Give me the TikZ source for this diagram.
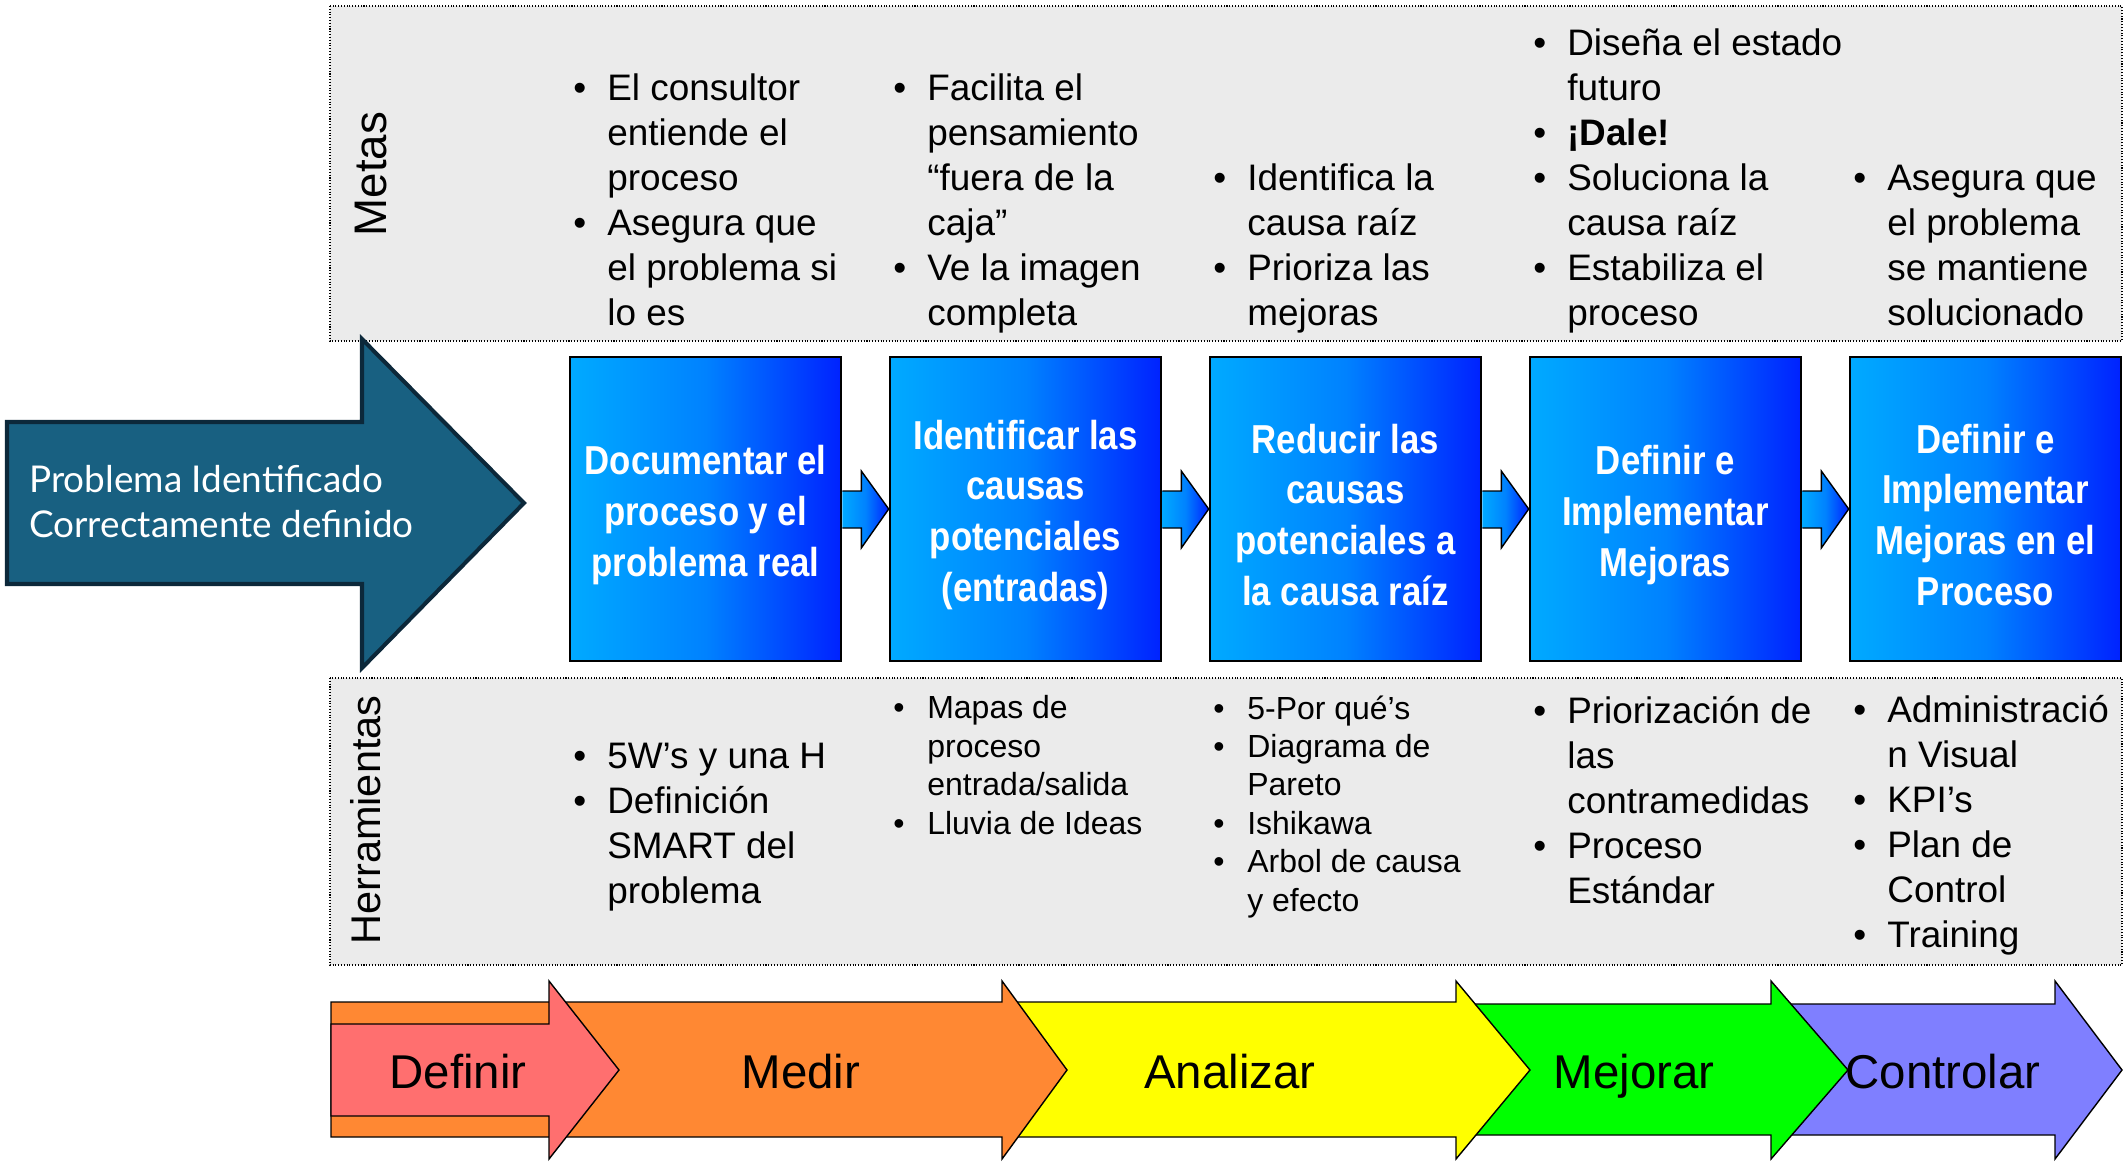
\documentclass[tikz,border=0pt]{standalone}
\usepackage{fontspec}
\setmainfont{Liberation Sans}
\newfontfamily\latofont{Lato}
\newfontfamily\narrowfont[FakeStretch=0.86]{Liberation Sans}
\usetikzlibrary{calc}

\definecolor{panelgray}{RGB}{235,235,235}
\definecolor{probblue}{RGB}{24,96,129}
\definecolor{probedge}{RGB}{12,40,58}
\definecolor{boxlight}{RGB}{0,170,255}
\definecolor{boxmid}{RGB}{0,130,255}
\definecolor{boxdark}{RGB}{0,34,255}
\definecolor{defcol}{RGB}{255,111,111}
\definecolor{medcol}{RGB}{255,136,51}
\definecolor{anacol}{RGB}{255,255,0}
\definecolor{mejcol}{RGB}{0,255,0}
\definecolor{concol}{RGB}{127,127,255}

\pgfdeclarehorizontalshading{boxshade}{100bp}{color(0bp)=(boxlight); color(25bp)=(boxlight); color(50bp)=(boxmid); color(75bp)=(boxdark); color(100bp)=(boxdark)}

\newlength{\bulw}\setlength{\bulw}{0.68cm}
\newcommand{\itm}{\makebox[\bulw][l]{•}}
\newcommand{\cnt}{\hspace*{\bulw}}

\tikzset{
  panel/.style={fill=panelgray, draw=black, densely dotted, line width=0.6pt},
  sidelabel/.style={rotate=90, inner sep=0pt, font=\fontsize{26}{30}\selectfont},
  stagebox/.style={draw=black, line width=1.5pt, shading=boxshade, minimum width=5.42cm,
    minimum height=6.08cm, inner sep=0pt},
  stagetext/.style={text=white, align=center, inner sep=0pt,
    font=\narrowfont\bfseries\fontsize{23}{29}\selectfont},
  linkarrow/.style={draw=black, line width=0.8pt, shading=boxshade},
  goals/.style={anchor=base west, inner sep=0pt, align=left, font=\fontsize{21}{25.6}\selectfont},
  toolsm/.style={goals, font=\fontsize{18.2}{21.85}\selectfont},
  phase/.style={draw=black, line width=0.8pt, line join=miter},
  phaselabel/.style={anchor=base, inner sep=0pt, font=\fontsize{27}{32}\selectfont}
}

\begin{document}
\begin{tikzpicture}[x=0.02cm, y=-0.02cm]
\useasboundingbox (0,0) rectangle (2123,1161);

% panels
\draw[panel] (330,6) rectangle (2122,341);
\draw[panel] (330,678) rectangle (2122,965);
\node[sidelabel] (metas) at (371,174) {Metas};
\node[sidelabel, font=\fontsize{23.6}{28}\selectfont] (herr) at (366,820) {Herramientas};

% problem arrow
\draw[fill=probblue, draw=probedge, line width=2.3pt, line join=miter]
  (7,422) -- (362,422) -- (362,339) -- (524,503) -- (362,668) -- (362,584) -- (7,584) -- cycle;
\node[anchor=base west, align=left, text=white, inner sep=0pt,
  font=\latofont\fontsize{21}{25.6}\selectfont] (prob) at (29,537)
  {Problema Identificado\\Correctamente definido};

% stage boxes
\foreach \n/\x in {1/705.5, 2/1025.5, 3/1345.5, 4/1665.5, 5/1985.5}
  \node[stagebox] (b\n) at (\x,509) {};
\node[stagetext] (b1txt) at ($(b1.center)+(0,6)$) {Documentar el\\proceso y el\\problema real};
\node[stagetext] (b2txt) at ($(b2.center)+(0,6)$) {Identificar las\\causas\\potenciales\\(entradas)};
\node[stagetext] (b3txt) at ($(b3.center)+(0,6)$) {Reducir las\\causas\\potenciales a\\la causa raíz};
\node[stagetext] (b4txt) at ($(b4.center)+(0,6)$) {Definir e\\Implementar\\Mejoras};
\node[stagetext] (b5txt) at ($(b5.center)+(0,6)$) {Definir e\\Implementar\\Mejoras en el\\Proceso};

\foreach \i [evaluate=\i as \j using int(\i+1)] in {1,...,4}
  \draw[linkarrow] ($(b\i.east)+(0,-18)$) -- ++(19,0) -- ++(0,-20) -- (b\j.west)
    -- ($(b\i.east)+(19,39)$) -- ++(0,-20) -- ($(b\i.east)+(0,19)$);

% metas (anchored on the last line)
\node[goals] (g1) at (573,325) {\itm El consultor\\\cnt entiende el\\\cnt proceso\\\itm Asegura que\\\cnt el problema si\\\cnt lo es};
\node[goals] (g2) at (893,325) {\itm Facilita el\\\cnt pensamiento\\\cnt “fuera de la\\\cnt caja”\\\itm Ve la imagen\\\cnt completa};
\node[goals] (g3) at (1213,325) {\itm Identifica la\\\cnt causa raíz\\\itm Prioriza las\\\cnt mejoras};
\node[goals] (g4) at (1533,325) {\itm Diseña el estado\\\cnt futuro\\\itm \textbf{¡Dale!}\\\itm Soluciona la\\\cnt causa raíz\\\itm Estabiliza el\\\cnt proceso};
\node[goals] (g5) at (1853,325) {\itm Asegura que\\\cnt el problema\\\cnt se mantiene\\\cnt solucionado};

% herramientas
\node[goals] (t1) at (573,903) {\itm 5W’s y una H\\\itm Definición\\\cnt SMART del\\\cnt problema};
\node[toolsm] (t2) at (893,834) {\itm Mapas de\\\cnt proceso\\\cnt entrada/salida\\\itm Lluvia de Ideas};
\node[toolsm] (t3) at (1213,911) {\itm 5-Por qué’s\\\itm Diagrama de\\\cnt Pareto\\\itm Ishikawa\\\itm Arbol de causa\\\cnt y efecto};
\node[goals] (t4) at (1533,903) {\itm Priorización de\\\cnt las\\\cnt contramedidas\\\itm Proceso\\\cnt Estándar};
\node[goals] (t5) at (1853,947) {\itm Administració\\\cnt n Visual\\\itm KPI’s\\\itm Plan de\\\cnt Control\\\itm Training};

% phase arrows, back to front
\foreach \xs/\hb/\tp/\st/\sb/\col in {1775/2055/2122/1004/1135/concol,
    1460/1771/1848/1004/1135/mejcol, 1010/1456/1530/1002/1137/anacol,
    331/1002/1067/1002/1137/medcol, 331/549/619/1024/1116/defcol}
  \draw[phase, fill=\col] (\xs,\st) -- (\hb,\st) -- (\hb,981) -- (\tp,1070)
    -- (\hb,1159) -- (\hb,\sb) -- (\xs,\sb) -- cycle;

\node[phaselabel] (def) at (458,1088) {Definir};
\node[phaselabel] (med) at (801,1088) {Medir};
\node[phaselabel] (ana) at (1230,1088) {Analizar};
\node[phaselabel] (mej) at (1634,1088) {Mejorar};
\node[phaselabel] (con) at (1943,1088) {Controlar};
\end{tikzpicture}
\end{document}
